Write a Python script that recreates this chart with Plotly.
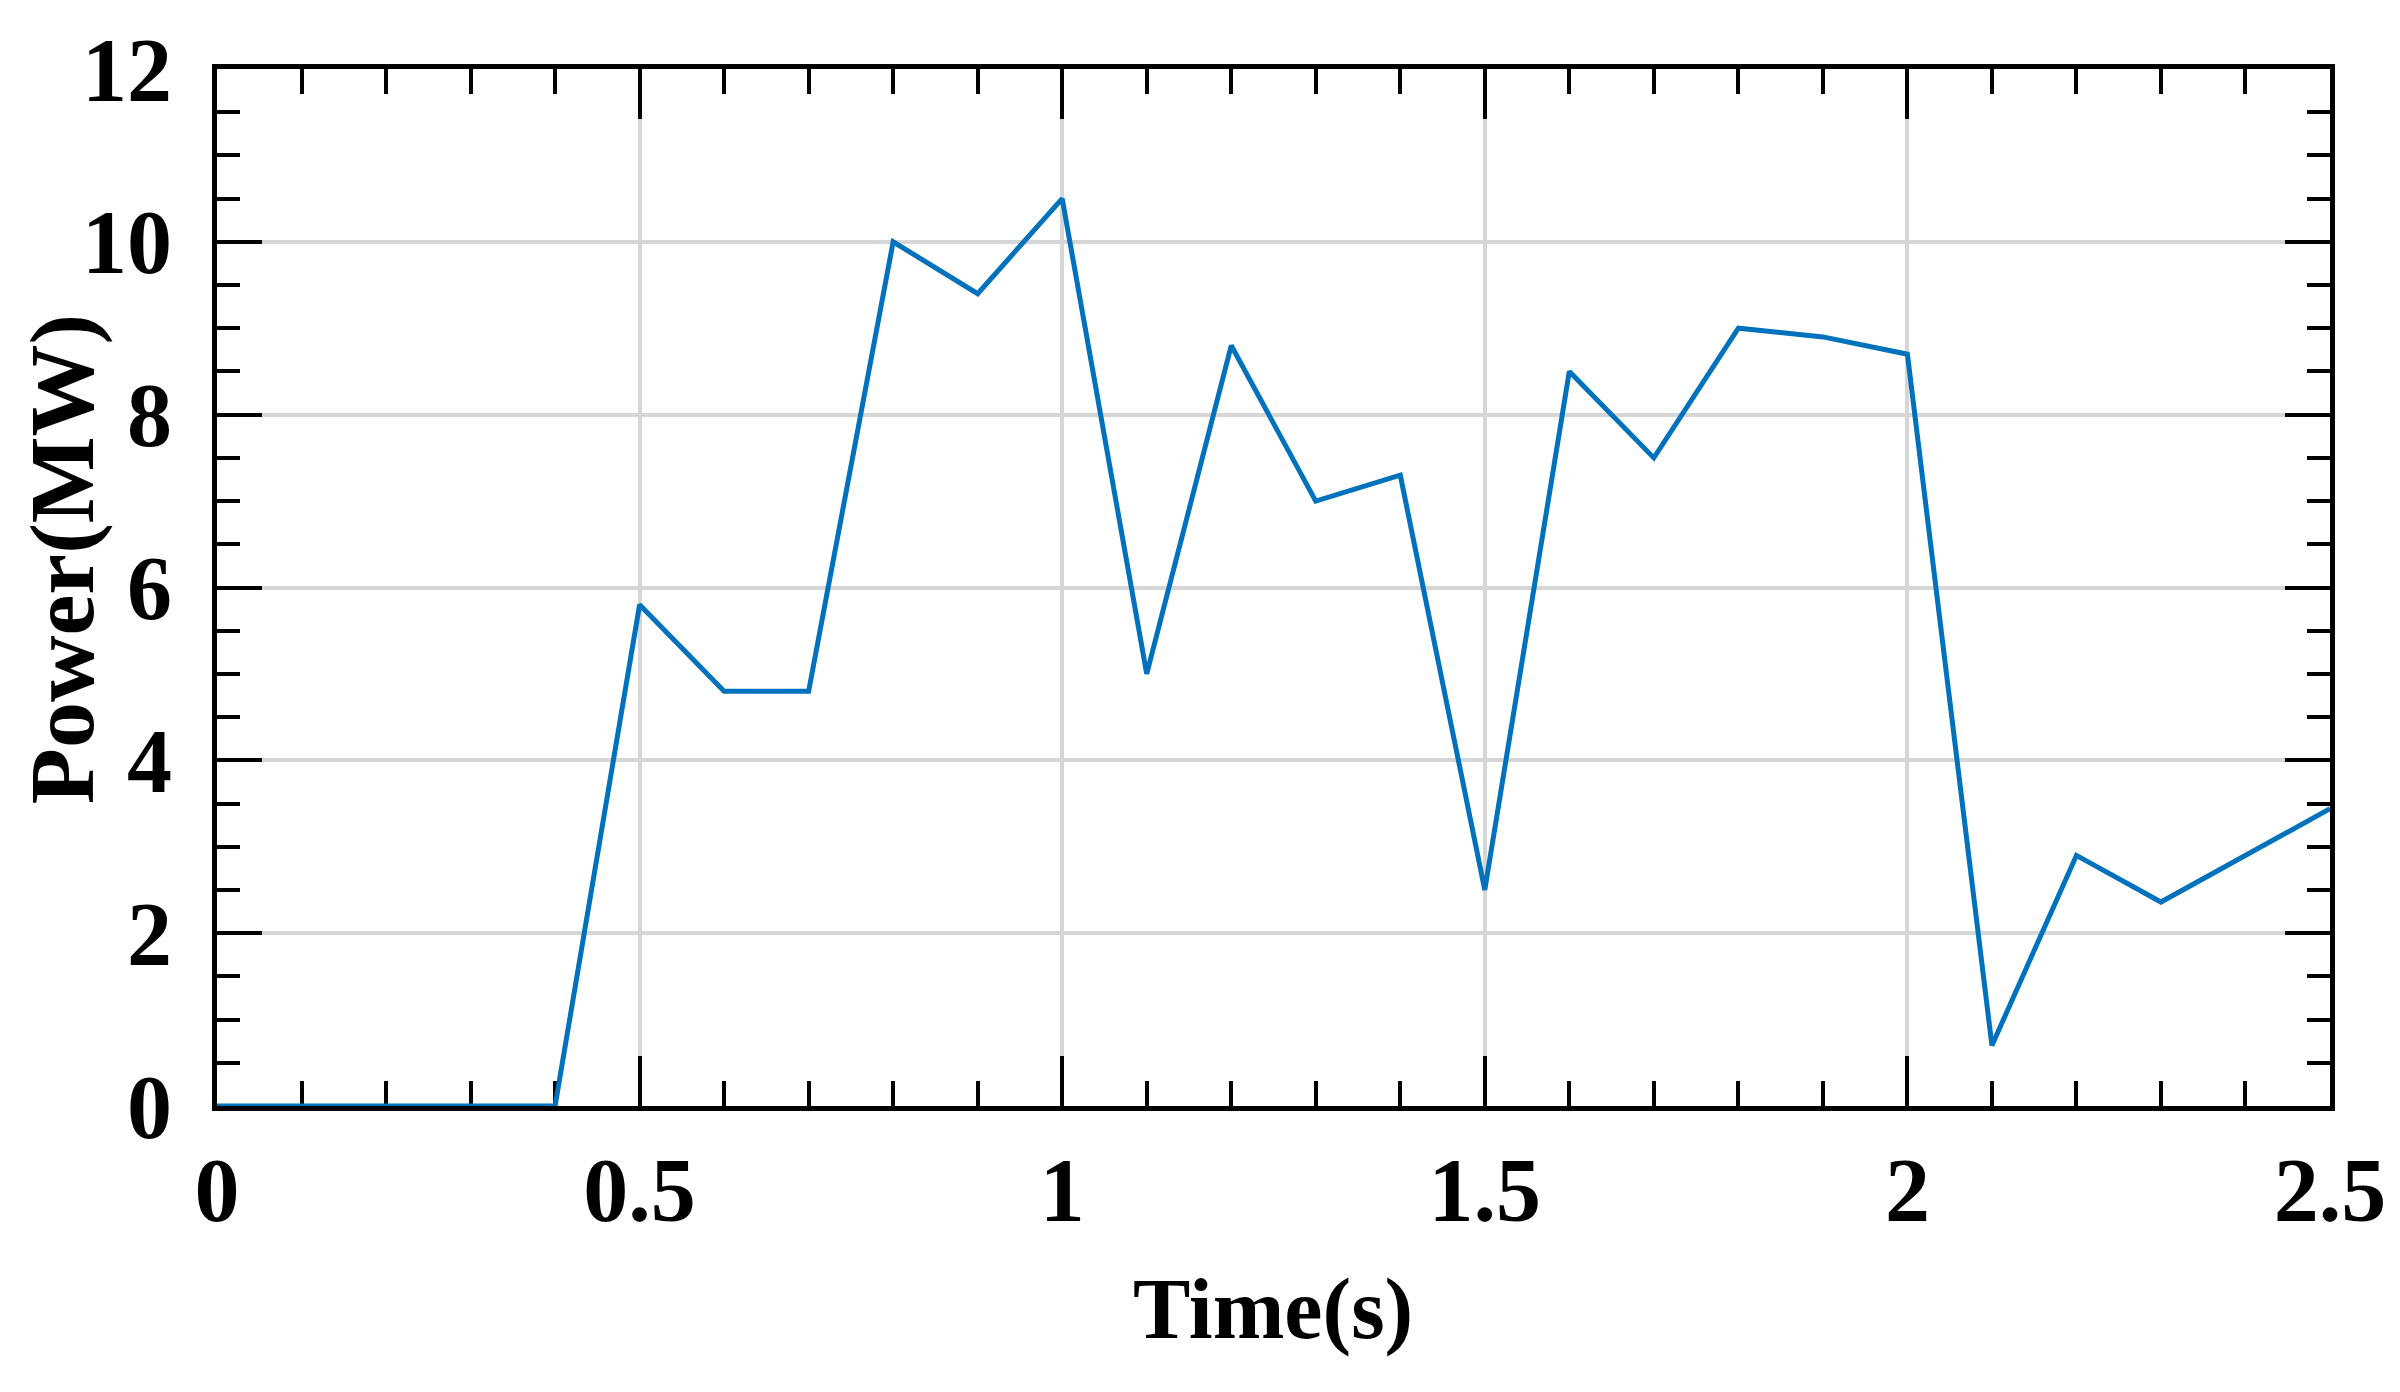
import plotly.graph_objects as go

time_s = [0.0, 0.1, 0.2, 0.3, 0.4, 0.5, 0.6, 0.7, 0.8, 0.9, 1.0, 1.1, 1.2,
          1.3, 1.4, 1.5, 1.6, 1.7, 1.8, 1.9, 2.0, 2.1, 2.2, 2.3, 2.4, 2.5]
power_mw = [0, 0, 0, 0, 0, 5.8, 4.8, 4.8, 10.0, 9.4, 10.5, 5.0, 8.8,
            7.0, 7.3, 2.5, 8.5, 7.5, 9.0, 8.9, 8.7, 0.7, 2.9, 2.36, 2.9, 3.44]

x_ticks = [0, 0.5, 1, 1.5, 2, 2.5]
x_labels = ["0", "0.5", "1", "1.5", "2", "2.5"]
y_ticks = [0, 2, 4, 6, 8, 10, 12]
y_labels = ["0", "2", "4", "6", "8", "10", "12"]

FONT = "Liberation Serif"
W, H = 2400, 1392
PAGE_OFF = 8  # default body margin of the html page
# target plot area on screen
PX0, PX1, PY0, PY1 = 217, 2330, 63, 1106
L = PX0 - PAGE_OFF
T = PY0 - PAGE_OFF
R = W - L - (PX1 - PX0)
B = H - T - (PY1 - PY0)

fig = go.Figure()
fig.add_trace(go.Scatter(x=time_s, y=power_mw, mode="lines",
                         line=dict(color="#0072BD", width=5),
                         showlegend=False))

axis_common = dict(
    showline=True, linecolor="black", linewidth=5, mirror="ticks",
    ticks="inside", tickcolor="black", tickwidth=4,
    showgrid=True, gridcolor="#d6d6d6", gridwidth=4,
    zeroline=False,
    tickfont=dict(family=FONT, size=90, color="black", weight="bold"),
)

fig.update_xaxes(range=[0, 2.5], tickvals=x_ticks, ticktext=x_labels,
                 ticklen=50, minor=dict(ticks="inside", dtick=0.1, ticklen=25,
                                        tickwidth=4, tickcolor="black", showgrid=False),
                 ticklabelstandoff=2, layer="below traces", **axis_common)
fig.update_yaxes(range=[0, 12], tickvals=y_ticks, ticktext=y_labels,
                 ticklen=45, minor=dict(ticks="inside", dtick=0.5, ticklen=23,
                                        tickwidth=4, tickcolor="black", showgrid=False),
                 ticklabelstandoff=22, **axis_common)

pw = PX1 - PX0
ph = PY1 - PY0
fig.add_annotation(text="<b>Time(s)</b>", xref="paper", yref="paper",
                   x=(1273 - PX0) / pw, y=(PY1 - 1310) / ph,
                   xanchor="center", yanchor="middle", showarrow=False,
                   font=dict(family=FONT, size=86, color="black"))
fig.add_annotation(text="<b>Power(MW)</b>", xref="paper", yref="paper",
                   x=(62 - PX0) / pw, y=(PY1 - 556) / ph, textangle=-90,
                   xanchor="center", yanchor="middle", showarrow=False,
                   font=dict(family=FONT, size=92, color="black"))

fig.update_layout(width=W, height=H, margin=dict(l=L, r=R, t=T, b=B),
                  plot_bgcolor="white", paper_bgcolor="white")
fig.write_html("out.html")
